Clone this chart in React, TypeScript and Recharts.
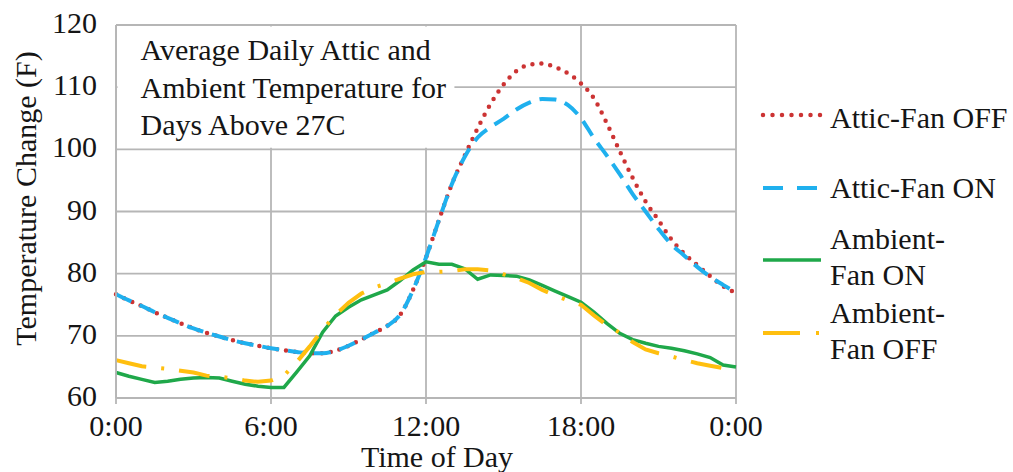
import React from 'react';
import {
  LineChart,
  Line,
  XAxis,
  YAxis,
  CartesianGrid,
  ReferenceArea,
  Legend,
} from 'recharts';

// Hour of day, sampled every half hour
const hours = [
  0, 0.5, 1, 1.5, 2, 2.5, 3, 3.5, 4, 4.5, 5, 5.5, 6, 6.5, 7, 7.5, 8, 8.5, 9, 9.5,
  10, 10.5, 11, 11.5, 12, 12.5, 13, 13.5, 14, 14.5, 15, 15.5, 16, 16.5, 17, 17.5,
  18, 18.5, 19, 19.5, 20, 20.5, 21, 21.5, 22, 22.5, 23, 23.5, 24,
];

// Attic temperature (F), fan off
const atticFanOff = [
  76.7, 75.7, 74.8, 73.8, 72.9, 72.0, 71.2, 70.5, 69.9, 69.3, 68.8, 68.4, 68.0, 67.7,
  67.4, 67.2, 67.2, 67.6, 68.4, 69.4, 70.5, 71.6, 73.4, 77.4, 82.6, 88.6, 94.4, 99.0,
  103.4, 107.3, 110.4, 112.6, 113.6, 113.8, 113.2, 112.2, 110.6, 108.2, 104.2, 99.7,
  95.4, 91.6, 88.6, 85.5, 83.2, 81.4, 79.6, 78.0, 76.9,
];

// Attic temperature (F), fan on
const atticFanOn = [
  76.7, 75.7, 74.8, 73.8, 72.9, 72.0, 71.2, 70.5, 69.9, 69.3, 68.8, 68.4, 68.0, 67.7,
  67.4, 67.2, 67.2, 67.6, 68.4, 69.4, 70.5, 71.6, 73.4, 77.4, 82.6, 88.6, 94.4, 98.8,
  101.9, 103.6, 104.9, 106.4, 107.5, 108.1, 108.0, 107.1, 105.0, 101.8, 99.0, 96.0,
  92.8, 90.0, 87.2, 84.7, 82.9, 81.1, 79.5, 78.2, 77.0,
];

// Ambient temperature (F), fan on
const ambientFanOn = [
  64.1, 63.5, 63.0, 62.5, 62.7, 63.0, 63.2, 63.3, 63.2, 62.7, 62.2, 61.9, 61.7, 61.7,
  64.2, 66.8, 70.6, 73.2, 74.6, 75.8, 76.6, 77.4, 78.9, 80.6, 81.9, 81.5, 81.5, 80.8,
  79.1, 79.8, 79.7, 79.6, 79.0, 78.1, 77.2, 76.3, 75.4, 73.8, 72.0, 70.4, 69.4, 68.8,
  68.3, 68.0, 67.6, 67.1, 66.5, 65.3, 65.0,
];

// Ambient temperature (F), fan off
const ambientFanOff = [
  66.1, 65.6, 65.1, 64.9, 64.7, 64.4, 64.1, 63.6, 63.4, 63.2, 62.8, 62.6, 62.8, 63.6,
  65.8, 68.3, 71.0, 73.4, 75.3, 76.8, 77.8, 78.4, 79.2, 79.9, 80.3, 80.3, 80.4, 80.7,
  80.7, 80.5, 79.9, 79.3, 78.5, 77.4, 76.5, 75.7, 75.0, 73.3, 71.7, 70.5, 69.0, 67.8,
  67.2, 66.7, 66.1, 65.6, 65.2, 64.8, 64.6,
];

const xTicks = [0, 6, 12, 18, 24];
const xTickLabels = ['0:00', '6:00', '12:00', '18:00', '0:00'];
const yTicks = [60, 70, 80, 90, 100, 110, 120];

const titleLines = ['Average Daily Attic and', 'Ambient Temperature for', 'Days Above 27C'];

const seriesNames = {
  atticOff: 'Attic-Fan OFF',
  atticOn: 'Attic-Fan ON',
  ambientOn: 'Ambient-Fan ON',
  ambientOff: 'Ambient-Fan OFF',
};

const legendLines: Record<string, string[]> = {
  atticOff: ['Attic-Fan OFF'],
  atticOn: ['Attic-Fan ON'],
  ambientOn: ['Ambient-', 'Fan ON'],
  ambientOff: ['Ambient-', 'Fan OFF'],
};

const data = hours.map((hour, i) => ({
  hour,
  atticOff: atticFanOff[i],
  atticOn: atticFanOn[i],
  ambientOn: ambientFanOn[i],
  ambientOff: ambientFanOff[i],
}));

const FONT = '"Liberation Serif", "Times New Roman", serif';
const TEXT = '#151515';
const GRID = '#b6b6b6';

const styles: Record<
  string,
  { color: string; dash?: string; legendDash?: string; width: number; cap: 'round' | 'butt' }
> = {
  atticOff: { color: '#cc3333', dash: '0 9', legendDash: '0 9.5', width: 4.5, cap: 'round' },
  atticOn: { color: '#1fb0ee', dash: '17 9', legendDash: '20 14', width: 4, cap: 'butt' },
  ambientOn: { color: '#1fa84a', width: 3.5, cap: 'butt' },
  ambientOff: { color: '#ffbf0f', dash: '31 15 3 15', legendDash: '37 16 3 15', width: 4, cap: 'butt' },
};

// Legend row placement (top of text block, y of sample line)
const legendRows: Record<string, { top: number; lineY: number }> = {
  atticOff: { top: 100, lineY: 115 },
  atticOn: { top: 170, lineY: 188 },
  ambientOn: { top: 221, lineY: 260 },
  ambientOff: { top: 295, lineY: 333 },
};

function XTick({ x, y, payload }: any) {
  const idx = xTicks.indexOf(payload.value);
  return (
    <text x={x} y={y + 30} textAnchor="middle" fontFamily={FONT} fontSize={30} fill={TEXT}>
      {xTickLabels[idx]}
    </text>
  );
}

function YTick({ x, y, payload }: any) {
  return (
    <text x={x} y={y + 8} textAnchor="end" fontFamily={FONT} fontSize={30} fill={TEXT}>
      {payload.value}
    </text>
  );
}

function XTitle({ viewBox }: any) {
  const { x, y, width } = viewBox;
  return (
    <text x={x + width / 2 + 11} y={y + 69} textAnchor="middle" fontFamily={FONT} fontSize={30} fill={TEXT}>
      Time of Day
    </text>
  );
}

function YTitle({ viewBox }: any) {
  const { y, height } = viewBox;
  const cx = 36;
  const cy = y + height / 2 - 13;
  return (
    <text
      x={cx}
      y={cy}
      transform={`rotate(-90 ${cx} ${cy})`}
      textAnchor="middle"
      fontFamily={FONT}
      fontSize={30}
      fill={TEXT}
    >
      Temperature Change (F)
    </text>
  );
}

function TitleBlock({ viewBox }: any) {
  const { x, y } = viewBox;
  return (
    <text x={x + 23} y={y + 33.5} fontFamily={FONT} fontSize={30} fill={TEXT}>
      {titleLines.map((t, i) => (
        <tspan key={i} x={x + 23} dy={i === 0 ? 0 : 37.5}>
          {t}
        </tspan>
      ))}
    </text>
  );
}

function LegendBlock({ payload }: any) {
  return (
    <div style={{ position: 'relative', width: 1013, height: 472 }}>
      {(payload || []).map((entry: any) => {
        const key = entry.dataKey as string;
        const s = styles[key];
        const row = legendRows[key];
        return (
          <React.Fragment key={key}>
            <svg
              width={64}
              height={12}
              style={{ position: 'absolute', left: 760, top: row.lineY - 6 }}
            >
              <line
                x1={3}
                y1={6}
                x2={61}
                y2={6}
                stroke={s.color}
                strokeWidth={s.width}
                strokeDasharray={s.legendDash}
                strokeLinecap={s.cap}
              />
            </svg>
            <div
              style={{
                position: 'absolute',
                left: 830,
                top: row.top,
                fontFamily: FONT,
                fontSize: 30,
                lineHeight: '36px',
                color: TEXT,
                whiteSpace: 'nowrap',
              }}
            >
              {legendLines[key].map((t, i) => (
                <div key={i}>{t}</div>
              ))}
            </div>
          </React.Fragment>
        );
      })}
    </div>
  );
}

export default function App() {
  return (
    <div style={{ position: 'absolute', left: 0, top: 0, background: '#fff' }}>
      <LineChart
        width={1013}
        height={472}
        data={data}
        margin={{ top: 25, right: 277, bottom: 0, left: 0 }}
      >
        <CartesianGrid
          stroke={GRID}
          strokeWidth={1.8}
          horizontalValues={yTicks}
          verticalValues={xTicks}
        />
        <XAxis
          type="number"
          dataKey="hour"
          domain={[0, 24]}
          ticks={xTicks}
          interval={0}
          height={74}
          tick={<XTick />}
          tickSize={6}
          tickMargin={2}
          axisLine={{ stroke: GRID, strokeWidth: 1.8 }}
          tickLine={{ stroke: GRID, strokeWidth: 1.8 }}
          label={<XTitle />}
        />
        <YAxis
          type="number"
          domain={[60, 120]}
          ticks={yTicks}
          interval={0}
          width={116}
          tick={<YTick />}
          tickSize={0}
          tickMargin={19}
          axisLine={{ stroke: GRID, strokeWidth: 1.8 }}
          tickLine={false}
          label={<YTitle />}
        />
        <ReferenceArea
          x1={0.06}
          x2={13.1}
          y1={100.25}
          y2={119.75}
          fill="#ffffff"
          fillOpacity={1}
          stroke="none"
          label={<TitleBlock />}
        />
        <Legend
          layout="horizontal"
          align="center"
          verticalAlign="middle"
          wrapperStyle={{ left: 0, top: 0, width: 1013, height: 472, pointerEvents: 'none' }}
          content={<LegendBlock />}
        />
        {(['atticOff', 'atticOn', 'ambientOn', 'ambientOff'] as const).map((key) => {
          const s = styles[key];
          return (
            <Line
              key={key}
              type={key.startsWith('attic') ? 'monotone' : 'linear'}
              dataKey={key}
              name={seriesNames[key]}
              stroke={s.color}
              strokeWidth={s.width}
              strokeDasharray={s.dash}
              strokeLinecap={s.cap}
              dot={false}
              activeDot={false}
              isAnimationActive={false}
            />
          );
        })}
      </LineChart>
    </div>
  );
}
